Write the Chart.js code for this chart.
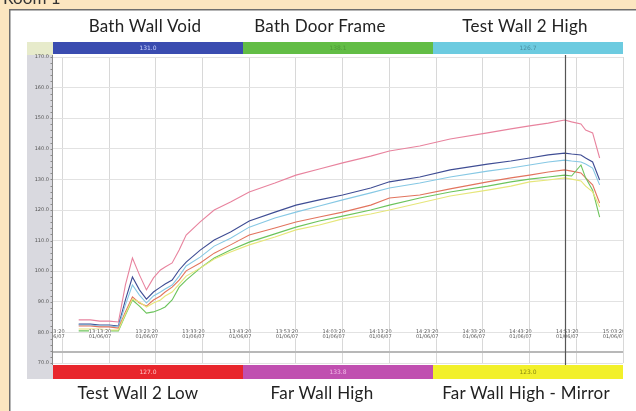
<!DOCTYPE html>
<html><head><meta charset="utf-8">
<script src="https://cdn.jsdelivr.net/npm/chart.js@4.4.1/dist/chart.umd.min.js"></script>
<style>
html,body{margin:0;padding:0;overflow:hidden;background:#ffffff;font-family:Lato,"Open Sans",sans-serif;}
#title{position:absolute;left:3px;top:-11px;font-size:17px;line-height:17px;color:#333;white-space:nowrap;}
.lbl{position:absolute;font-size:17px;line-height:17px;letter-spacing:0.25px;color:#222;white-space:nowrap;transform:translateX(-50%);}
canvas{position:absolute;left:0;top:0;}
</style></head><body>
<canvas id="c" width="636" height="411"></canvas>
<div id="title">Room 1</div>
<div id="labels"></div>
<script>
// ---- data ----
const sensorNames = ["Bath Wall Void","Bath Door Frame","Test Wall 2 High","Test Wall 2 Low","Far Wall High","Far Wall High - Mirror"];
const sensorReadings = ["131.0","138.1","126.7","127.0","133.8","123.0"];
const xMinutes = [3.5,6,8,10,12,13.5,15,16.5,18,19.5,21,22,23.5,25,26.5,29.5,32.5,36,40,45.5,50,55,60,66,70,76.5,83,91,96,100,104,107.5,109,111,112,113.5,115];
const farWallHigh = [84.1,84.1,83.7,83.7,83.4,95.5,104.3,98.8,93.9,97.8,100.4,101.4,102.7,106.9,111.8,116.1,120.0,122.6,125.9,128.8,131.4,133.4,135.4,137.6,139.3,140.9,143.2,145.2,146.5,147.5,148.4,149.4,148.8,148.1,146.1,145.2,137.0];
const bathWallVoid = [82.7,82.7,82.4,82.4,82.1,90.6,98.1,93.9,90.9,93.2,94.8,95.8,97.1,100.4,103.0,106.9,110.2,112.8,116.4,119.3,121.6,123.3,124.9,127.2,129.2,130.8,133.1,135.0,136.0,137.0,138.0,138.6,138.3,138.0,137.0,135.7,129.8];
const testWall2High = [82.4,82.4,82.1,82.1,81.8,89.0,95.5,92.2,89.6,91.9,93.2,94.2,95.5,98.4,101.7,104.6,108.2,110.8,114.4,117.4,119.3,121.3,123.3,125.6,127.2,128.8,130.8,132.7,133.7,134.7,135.7,136.3,136.0,135.7,135.0,133.7,128.2];
const testWall2Low = [82.1,82.1,81.8,81.8,81.4,86.7,91.6,89.6,88.6,90.6,91.9,93.2,94.8,97.1,100.1,102.7,105.9,108.6,111.8,114.1,116.1,117.7,119.3,121.6,123.9,124.9,126.9,129.2,130.5,131.4,132.4,133.1,132.7,132.1,130.5,128.2,122.3];
const bathDoorFrame = [80.5,80.5,80.5,80.5,80.5,85.7,90.6,88.6,86.3,86.7,87.6,88.3,90.6,94.8,97.1,101.0,104.3,106.9,109.5,112.2,114.4,116.4,118.0,120.0,121.6,123.9,125.9,127.8,129.2,130.1,130.8,131.4,131.1,134.7,130.5,126.5,117.7];
const farWallHighMirror = [81.1,81.1,81.1,80.8,80.8,86.0,90.9,89.9,88.3,89.6,90.6,91.9,93.2,95.8,98.4,101.0,104.0,106.3,108.6,111.2,113.5,115.1,117.1,118.7,120.0,122.3,124.6,126.5,127.8,129.2,129.8,130.5,130.1,129.5,127.8,125.9,121.0];
const xTickValues = [0,10,20,30,40,50,60,70,80,90,100,110,120];
const xTimeLabels = ["13:03:20","13:13:20","13:23:20","13:33:20","13:43:20","13:53:20","14:03:20","14:13:20","14:23:20","14:33:20","14:43:20","14:53:20","15:03:20"];
const xDateLabels = ["01/06/07","01/06/07","01/06/07","01/06/07","01/06/07","01/06/07","01/06/07","01/06/07","01/06/07","01/06/07","01/06/07","01/06/07","01/06/07"];
const yTickValues = [70,80,90,100,110,120,130,140,150,160,170];
const cursorMinute = 107.6;

// ---- styles ----
const topBarColors = ["#3a4cb0","#62bd45","#6ccbe0"];
const botBarColors = ["#e8262c","#c04fb0","#f2f02a"];
const topTextColors = ["#c9d2ff","#4f9a38","#4a8ea0"];
const botTextColors = ["#ffc4c4","#f0b8e6","#8a8a10"];
const lineColors = {fwh:"#e8839e",bwv:"#3f4d94",tw2h:"#86c8e4",tw2l:"#e2745e",bdf:"#6cc45c",fwhm:"#e6e67a"};

// HTML labels
const labelsDiv = document.getElementById('labels');
const labelCenters = [145,320,525,138,322,526];
sensorNames.forEach((n,i)=>{
  const d=document.createElement('div');
  d.className='lbl'; d.textContent=n;
  d.style.left=labelCenters[i]+'px';
  d.style.top=(i<3?17:384)+'px';
  labelsDiv.appendChild(d);
});

const mk = (arr)=>xMinutes.map((x,i)=>({x:x,y:arr[i]}));

const decor = {
  id:'decor',
  beforeDraw(chart){
    const {ctx, chartArea:a, scales:{y}, width, height} = chart;
    ctx.save();
    ctx.fillStyle='#fce6c0';
    ctx.fillRect(0, 0, width, height);
    ctx.fillStyle='#ffffff';
    ctx.fillRect(9, 9, width-9, height-9);
    ctx.strokeStyle='#6e6e6e'; ctx.lineWidth=1.5;
    ctx.beginPath(); ctx.moveTo(9.75, height); ctx.lineTo(9.75, 9.75); ctx.lineTo(width, 9.75); ctx.stroke();
    ctx.fillStyle='#d9d9df';
    ctx.fillRect(27, a.top-15, a.left-27, (a.bottom+16)-(a.top-15));
    ctx.fillStyle='#e7ebcb';
    ctx.fillRect(27, a.top-15, a.left-27, 13);
    ctx.strokeStyle='#8a8a8a'; ctx.lineWidth=1;
    const step=(y.getPixelForValue(70)-y.getPixelForValue(80))/5;
    for(let p=y.getPixelForValue(170); p<=y.getPixelForValue(70)+0.5; p+=step){
      const yy=Math.round(p)+0.5;
      ctx.beginPath(); ctx.moveTo(a.left-2.5, yy); ctx.lineTo(a.left, yy); ctx.stroke();
    }
    ctx.beginPath(); ctx.moveTo(a.left-0.5, a.top-2); ctx.lineTo(a.left-0.5, a.bottom+2); ctx.stroke();
    ctx.restore();
  },
  afterDatasetsDraw(chart){
    const {ctx, chartArea:a, scales:{x,y}} = chart;
    ctx.save();
    ctx.strokeStyle='#b8b8b8'; ctx.lineWidth=2;
    ctx.beginPath(); ctx.moveTo(a.left, a.bottom-11); ctx.lineTo(a.right, a.bottom-11); ctx.stroke();
    ctx.beginPath(); ctx.rect(a.left, a.top, a.right-a.left, a.bottom-a.top); ctx.clip();
    const py = y.getPixelForValue(80);
    ctx.font='5px "DejaVu Sans", sans-serif';
    ctx.textAlign='center'; ctx.textBaseline='middle';
    xTickValues.forEach((v,i)=>{
      const px = x.getPixelForValue(v)-9;
      ctx.fillStyle='#ffffff';
      ctx.fillRect(px-11, py-3, 22, 9);
      ctx.fillStyle='#555';
      ctx.fillText(xTimeLabels[i], px, py-0.5);
      ctx.fillText(xDateLabels[i], px, py+4);
    });
    ctx.restore();
    ctx.save();
    const cx = Math.round(x.getPixelForValue(cursorMinute))+0.5;
    ctx.strokeStyle='#555'; ctx.lineWidth=1.2;
    ctx.beginPath(); ctx.moveTo(cx, a.top-2); ctx.lineTo(cx, a.bottom+2); ctx.stroke();
    ctx.restore();
  },
  afterDraw(chart){
    const {ctx, chartArea:a} = chart;
    const w=(a.right-a.left)/3;
    ctx.save();
    ctx.font='6px "DejaVu Sans", sans-serif';
    ctx.textAlign='center'; ctx.textBaseline='middle';
    for(let i=0;i<3;i++){
      ctx.fillStyle=topBarColors[i];
      ctx.fillRect(a.left+i*w, a.top-15, w, 12);
      ctx.fillStyle=topTextColors[i];
      ctx.fillText(sensorReadings[i], a.left+(i+0.5)*w, a.top-9);
      ctx.fillStyle=botBarColors[i];
      ctx.fillRect(a.left+i*w, a.bottom+2, w, 14);
      ctx.fillStyle=botTextColors[i];
      ctx.fillText(sensorReadings[i+3], a.left+(i+0.5)*w, a.bottom+9);
    }
    ctx.restore();
  }
};

new Chart(document.getElementById('c'), {
  type:'line',
  data:{datasets:[
    {label:sensorNames[5], data:mk(farWallHighMirror), borderColor:lineColors.fwhm},
    {label:sensorNames[1], data:mk(bathDoorFrame), borderColor:lineColors.bdf},
    {label:sensorNames[3], data:mk(testWall2Low), borderColor:lineColors.tw2l},
    {label:sensorNames[2], data:mk(testWall2High), borderColor:lineColors.tw2h},
    {label:sensorNames[0], data:mk(bathWallVoid), borderColor:lineColors.bwv},
    {label:sensorNames[4], data:mk(farWallHigh), borderColor:lineColors.fwh}
  ]},
  options:{
    responsive:false, animation:false, devicePixelRatio:1,
    layout:{padding:{left:27,right:13,top:57,bottom:48}},
    elements:{point:{radius:0}, line:{borderWidth:1.1, tension:0}},
    plugins:{legend:{display:false}, tooltip:{enabled:false}},
    scales:{
      x:{type:'linear', min:-2, max:120,
        afterBuildTicks:s=>{s.ticks=xTickValues.map(v=>({value:v}));},
        afterFit:s=>{s.height=0;},
        ticks:{display:false}, border:{display:false},
        grid:{color:'#d8d8d8', lineWidth:1, drawTicks:false}},
      y:{type:'linear', min:70, max:170,
        afterBuildTicks:s=>{s.ticks=yTickValues.map(v=>({value:v}));},
        afterFit:s=>{s.width=26;},
        ticks:{font:{size:5,family:'"DejaVu Sans", sans-serif'}, color:'#555', padding:4, callback:v=>v.toFixed(1)},
        border:{display:false},
        grid:{color:'#e2e2e2', lineWidth:1, drawTicks:false}}
    }
  },
  plugins:[decor]
});
</script>
</body></html>
